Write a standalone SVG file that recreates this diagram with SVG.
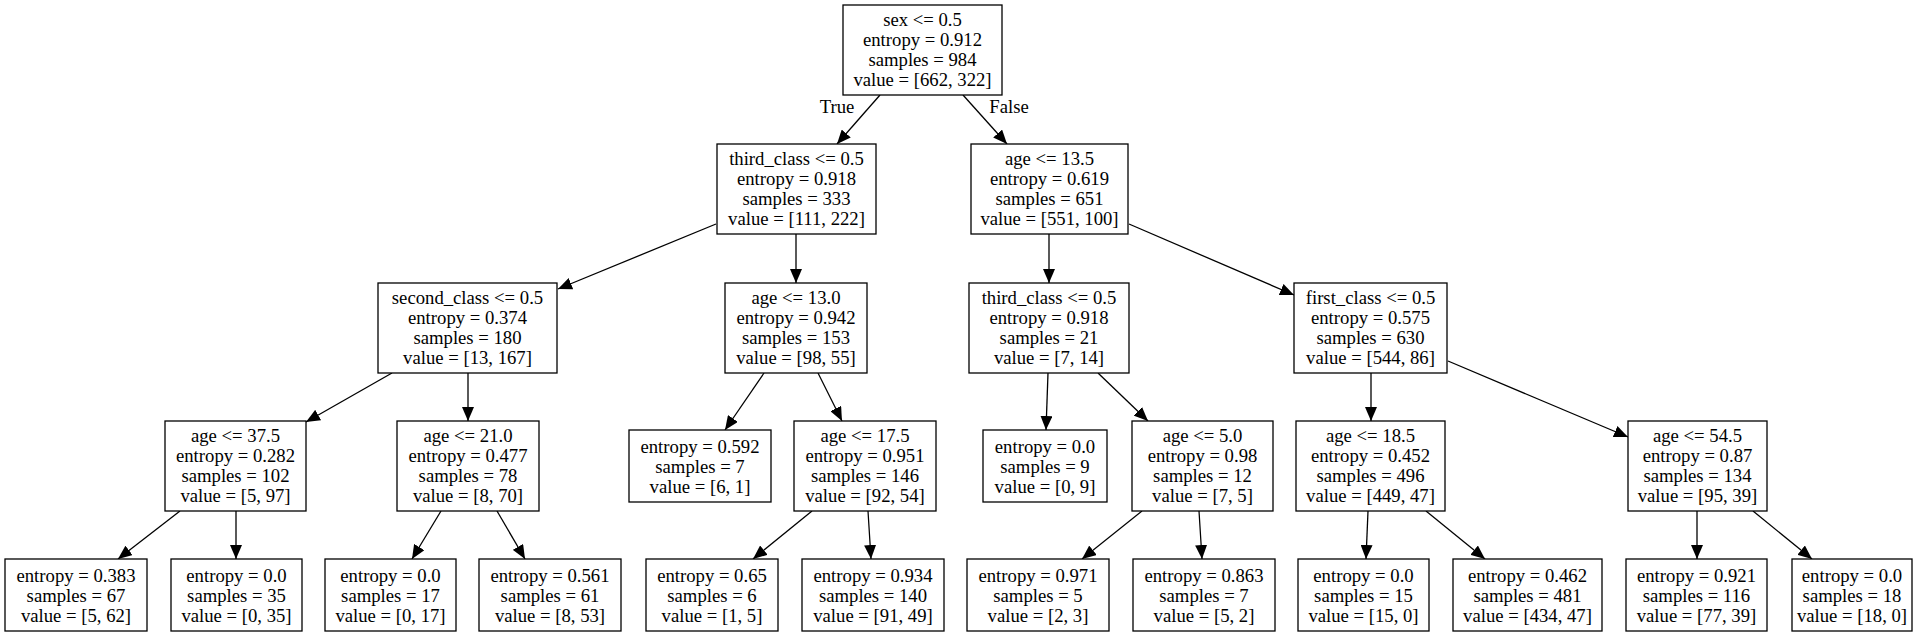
<svg xmlns="http://www.w3.org/2000/svg" width="1928" height="636" viewBox="0 0 1928 636">
<style>
.n rect{fill:#fff;stroke:#000;stroke-width:1.3}
text{font-family:"Liberation Serif","Times New Roman",serif;font-size:18.7px;text-anchor:middle;fill:#000}
.e line{stroke:#000;stroke-width:1.3;marker-end:url(#ah)}
</style>
<defs>
<marker id="ah" viewBox="0 0 14 12" refX="14" refY="6" markerWidth="14" markerHeight="12" markerUnits="userSpaceOnUse" orient="auto">
<path d="M0,0 L14,6 L0,12 z" fill="#000"/>
</marker>
</defs>
<rect width="1928" height="636" fill="#fff"/>
<g id="edges" class="e">
<line x1="880" y1="95" x2="837" y2="144"/>
<line x1="963" y1="95" x2="1007" y2="144"/>
<line x1="716" y1="224" x2="558" y2="289"/>
<line x1="796" y1="234" x2="796" y2="283"/>
<line x1="1049" y1="234" x2="1049" y2="283"/>
<line x1="1129" y1="224" x2="1294" y2="295"/>
<line x1="392" y1="373" x2="306" y2="422"/>
<line x1="468" y1="373" x2="468" y2="421"/>
<line x1="764" y1="373" x2="725" y2="430"/>
<line x1="818" y1="373" x2="842" y2="421"/>
<line x1="1048" y1="373" x2="1046" y2="430"/>
<line x1="1098" y1="373" x2="1148" y2="421"/>
<line x1="1371" y1="373" x2="1371" y2="421"/>
<line x1="1448" y1="361" x2="1628" y2="437"/>
<line x1="180" y1="511" x2="118" y2="559"/>
<line x1="236" y1="511" x2="236" y2="559"/>
<line x1="441" y1="511" x2="412" y2="559"/>
<line x1="497" y1="511" x2="525" y2="559"/>
<line x1="812" y1="511" x2="753" y2="559"/>
<line x1="868" y1="511" x2="871" y2="559"/>
<line x1="1142" y1="511" x2="1082" y2="559"/>
<line x1="1199" y1="511" x2="1202" y2="559"/>
<line x1="1368" y1="511" x2="1366" y2="559"/>
<line x1="1426" y1="511" x2="1485" y2="559"/>
<line x1="1697" y1="511" x2="1697" y2="559"/>
<line x1="1753" y1="511" x2="1812" y2="559"/>
<text x="837" y="113">True</text>
<text x="1009" y="113">False</text>
</g>
<g id="n0" class="n"><rect x="843" y="5" width="159" height="90"/>
<text x="922.5" y="26">sex &lt;= 0.5</text><text x="922.5" y="46">entropy = 0.912</text><text x="922.5" y="66">samples = 984</text><text x="922.5" y="86">value = [662, 322]</text></g>
<g id="n1" class="n"><rect x="717" y="144" width="159" height="90"/>
<text x="796.5" y="165">third_class &lt;= 0.5</text><text x="796.5" y="185">entropy = 0.918</text><text x="796.5" y="205">samples = 333</text><text x="796.5" y="225">value = [111, 222]</text></g>
<g id="n2" class="n"><rect x="971" y="144" width="157" height="90"/>
<text x="1049.5" y="165">age &lt;= 13.5</text><text x="1049.5" y="185">entropy = 0.619</text><text x="1049.5" y="205">samples = 651</text><text x="1049.5" y="225">value = [551, 100]</text></g>
<g id="n3" class="n"><rect x="378" y="283" width="179" height="90"/>
<text x="467.5" y="304">second_class &lt;= 0.5</text><text x="467.5" y="324">entropy = 0.374</text><text x="467.5" y="344">samples = 180</text><text x="467.5" y="364">value = [13, 167]</text></g>
<g id="n4" class="n"><rect x="725" y="283" width="142" height="90"/>
<text x="796" y="304">age &lt;= 13.0</text><text x="796" y="324">entropy = 0.942</text><text x="796" y="344">samples = 153</text><text x="796" y="364">value = [98, 55]</text></g>
<g id="n5" class="n"><rect x="969" y="283" width="160" height="90"/>
<text x="1049" y="304">third_class &lt;= 0.5</text><text x="1049" y="324">entropy = 0.918</text><text x="1049" y="344">samples = 21</text><text x="1049" y="364">value = [7, 14]</text></g>
<g id="n6" class="n"><rect x="1294" y="283" width="153" height="90"/>
<text x="1370.5" y="304">first_class &lt;= 0.5</text><text x="1370.5" y="324">entropy = 0.575</text><text x="1370.5" y="344">samples = 630</text><text x="1370.5" y="364">value = [544, 86]</text></g>
<g id="n7" class="n"><rect x="165" y="421" width="141" height="90"/>
<text x="235.5" y="442">age &lt;= 37.5</text><text x="235.5" y="462">entropy = 0.282</text><text x="235.5" y="482">samples = 102</text><text x="235.5" y="502">value = [5, 97]</text></g>
<g id="n8" class="n"><rect x="397" y="421" width="142" height="90"/>
<text x="468" y="442">age &lt;= 21.0</text><text x="468" y="462">entropy = 0.477</text><text x="468" y="482">samples = 78</text><text x="468" y="502">value = [8, 70]</text></g>
<g id="n9" class="n"><rect x="629" y="430" width="142" height="72"/>
<text x="700" y="453">entropy = 0.592</text><text x="700" y="473">samples = 7</text><text x="700" y="493">value = [6, 1]</text></g>
<g id="n10" class="n"><rect x="794" y="421" width="142" height="90"/>
<text x="865" y="442">age &lt;= 17.5</text><text x="865" y="462">entropy = 0.951</text><text x="865" y="482">samples = 146</text><text x="865" y="502">value = [92, 54]</text></g>
<g id="n11" class="n"><rect x="983" y="430" width="124" height="72"/>
<text x="1045" y="453">entropy = 0.0</text><text x="1045" y="473">samples = 9</text><text x="1045" y="493">value = [0, 9]</text></g>
<g id="n12" class="n"><rect x="1132" y="421" width="141" height="90"/>
<text x="1202.5" y="442">age &lt;= 5.0</text><text x="1202.5" y="462">entropy = 0.98</text><text x="1202.5" y="482">samples = 12</text><text x="1202.5" y="502">value = [7, 5]</text></g>
<g id="n13" class="n"><rect x="1296" y="421" width="149" height="90"/>
<text x="1370.5" y="442">age &lt;= 18.5</text><text x="1370.5" y="462">entropy = 0.452</text><text x="1370.5" y="482">samples = 496</text><text x="1370.5" y="502">value = [449, 47]</text></g>
<g id="n14" class="n"><rect x="1628" y="421" width="139" height="90"/>
<text x="1697.5" y="442">age &lt;= 54.5</text><text x="1697.5" y="462">entropy = 0.87</text><text x="1697.5" y="482">samples = 134</text><text x="1697.5" y="502">value = [95, 39]</text></g>
<g id="n15" class="n"><rect x="5" y="559" width="142" height="72"/>
<text x="76" y="582">entropy = 0.383</text><text x="76" y="602">samples = 67</text><text x="76" y="622">value = [5, 62]</text></g>
<g id="n16" class="n"><rect x="171" y="559" width="131" height="72"/>
<text x="236.5" y="582">entropy = 0.0</text><text x="236.5" y="602">samples = 35</text><text x="236.5" y="622">value = [0, 35]</text></g>
<g id="n17" class="n"><rect x="325" y="559" width="131" height="72"/>
<text x="390.5" y="582">entropy = 0.0</text><text x="390.5" y="602">samples = 17</text><text x="390.5" y="622">value = [0, 17]</text></g>
<g id="n18" class="n"><rect x="479" y="559" width="142" height="72"/>
<text x="550" y="582">entropy = 0.561</text><text x="550" y="602">samples = 61</text><text x="550" y="622">value = [8, 53]</text></g>
<g id="n19" class="n"><rect x="646" y="559" width="132" height="72"/>
<text x="712" y="582">entropy = 0.65</text><text x="712" y="602">samples = 6</text><text x="712" y="622">value = [1, 5]</text></g>
<g id="n20" class="n"><rect x="802" y="559" width="142" height="72"/>
<text x="873" y="582">entropy = 0.934</text><text x="873" y="602">samples = 140</text><text x="873" y="622">value = [91, 49]</text></g>
<g id="n21" class="n"><rect x="967" y="559" width="142" height="72"/>
<text x="1038" y="582">entropy = 0.971</text><text x="1038" y="602">samples = 5</text><text x="1038" y="622">value = [2, 3]</text></g>
<g id="n22" class="n"><rect x="1133" y="559" width="142" height="72"/>
<text x="1204" y="582">entropy = 0.863</text><text x="1204" y="602">samples = 7</text><text x="1204" y="622">value = [5, 2]</text></g>
<g id="n23" class="n"><rect x="1298" y="559" width="131" height="72"/>
<text x="1363.5" y="582">entropy = 0.0</text><text x="1363.5" y="602">samples = 15</text><text x="1363.5" y="622">value = [15, 0]</text></g>
<g id="n24" class="n"><rect x="1453" y="559" width="149" height="72"/>
<text x="1527.5" y="582">entropy = 0.462</text><text x="1527.5" y="602">samples = 481</text><text x="1527.5" y="622">value = [434, 47]</text></g>
<g id="n25" class="n"><rect x="1626" y="559" width="141" height="72"/>
<text x="1696.5" y="582">entropy = 0.921</text><text x="1696.5" y="602">samples = 116</text><text x="1696.5" y="622">value = [77, 39]</text></g>
<g id="n26" class="n"><rect x="1792" y="559" width="120" height="72"/>
<text x="1852" y="582">entropy = 0.0</text><text x="1852" y="602">samples = 18</text><text x="1852" y="622">value = [18, 0]</text></g>
</svg>
